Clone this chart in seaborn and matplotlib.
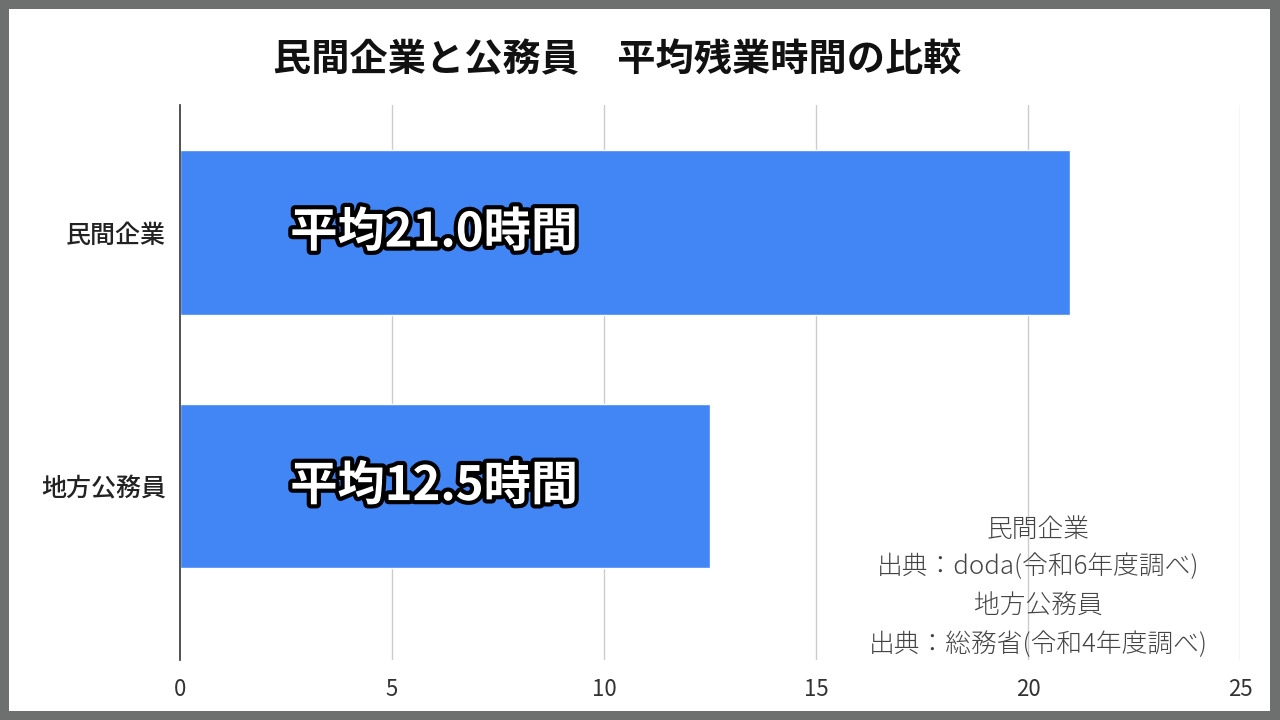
import matplotlib
matplotlib.use("Agg")
import matplotlib.pyplot as plt
import matplotlib.patheffects as pe
from matplotlib.patches import Rectangle
import seaborn as sns
import pandas as pd

categories = ["民間企業", "地方公務員"]
hours = [21.0, 12.5]
bar_labels = ["平均21.0時間", "平均12.5時間"]
x_ticks = [0, 5, 10, 15, 20, 25]
title = "民間企業と公務員　平均残業時間の比較"
source_lines = ["民間企業", "出典：doda(令和6年度調べ)", "地方公務員", "出典：総務省(令和4年度調べ)"]

sns.set_theme(style="white")
plt.rcParams['font.family'] = ['Noto Sans CJK JP', 'DejaVu Sans']

df = pd.DataFrame({"category": categories, "hours": hours})

fig = plt.figure(figsize=(12.8, 7.2), dpi=100)
fig.patch.set_facecolor("#6e706f")
fig.add_artist(Rectangle((9/1280, 9/720), (1270-9)/1280, (711-9)/720,
                         transform=fig.transFigure, facecolor="white",
                         edgecolor="none", zorder=0))

ax = fig.add_axes([180/1280, 1-660/720, (1240-180)/1280, (660-105)/720])
ax.set_facecolor("none")
sns.barplot(data=df, y="category", x="hours", orient="h", color="#4285f4",
            saturation=1, width=0.65, ax=ax, zorder=3)

ax.set_xlim(0, 25)
ax.set_ylim(1.686, -0.503)
ax.set_xticks(x_ticks)
ax.set_xticklabels([str(t) for t in x_ticks], fontsize=16, color="#333333")
ax.tick_params(axis="y", labelsize=18, labelcolor="#222222", length=0, pad=10)
for t in ax.get_yticklabels():
    t.set_fontweight("medium")
ax.tick_params(axis="x", length=0, pad=13)
ax.set_xlabel("")
ax.set_ylabel("")
for x in x_ticks[1:]:
    ax.axvline(x, color="#cccccc", linewidth=1, zorder=1)
for s in ["top", "right", "bottom"]:
    ax.spines[s].set_visible(False)
ax.spines["left"].set_color("#333333")
ax.spines["left"].set_linewidth(1.2)
ax.spines["left"].set_zorder(4)

for i, lab in enumerate(bar_labels):
    ax.text(2.6, i, lab, fontsize=34, fontweight="bold", color="white",
            va="center", ha="left", zorder=5,
            path_effects=[pe.withStroke(linewidth=6, foreground="black")])

fig.text(617/1280, 1-60/720, title, fontsize=27.5, fontweight="bold",
         color="#111111", ha="center", va="center")

ys = [530, 567, 607, 645]
for y, line in zip(ys, source_lines):
    fig.text(1038/1280, 1-y/720, line, fontsize=18.5, color="#444444",
             ha="center", va="center", fontweight="light")

fig.savefig("out.png", dpi=100, facecolor=fig.get_facecolor())
